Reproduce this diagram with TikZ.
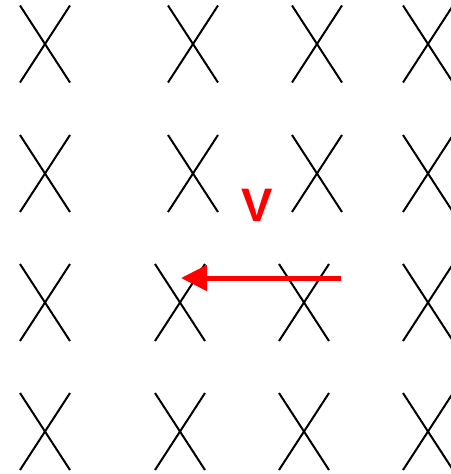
\documentclass[tikz,border=0pt]{standalone}
\usepackage{fontspec}
\newfontfamily\labelfont{Liberation Sans}
\usepackage{tikz}
\usetikzlibrary{arrows.meta,shapes.misc}
\definecolor{vecred}{RGB}{255,0,0}

\begin{document}
\begin{tikzpicture}[
    x=1pt,y=-1pt,
    xmark/.style={cross out,draw,line width=2pt,inner sep=0pt,outer sep=0pt,minimum width=50pt,minimum height=77pt},
    vec/.style={-{Triangle[length=26pt,width=25pt]},line width=5pt,vecred},
    vlabel/.style={font=\labelfont\bfseries\fontsize{47}{50}\selectfont,text=vecred,inner sep=0pt}
]
\useasboundingbox (0,0) rectangle (450,474);
% upper two rows
\node[xmark] (c11) at (45,44) {};
\node[xmark] (c12) at (193,44) {};
\node[xmark] (c13) at (317,44) {};
\node[xmark] (c14) at (428,44) {};
\node[xmark] (c21) at (45,173.5) {};
\node[xmark] (c22) at (193,173.5) {};
\node[xmark] (c23) at (317,173.5) {};
\node[xmark] (c24) at (428,173.5) {};
% lower two rows, shifted left
\node[xmark] (c31) at (45,302.5) {};
\node[xmark] (c32) at (180,302.5) {};
\node[xmark] (c33) at (304,302.5) {};
\node[xmark] (c34) at (428,302.5) {};
\node[xmark] (c41) at (45,431.5) {};
\node[xmark] (c42) at (180,431.5) {};
\node[xmark] (c43) at (304,431.5) {};
\node[xmark] (c44) at (428,431.5) {};

% velocity vector
\coordinate (vtail) at (341,278);
\coordinate (vhead) at (181,278);
\draw[vec] (vtail) -- (vhead);
\node[vlabel] (vname) at (257,205) {V};
\end{tikzpicture}
\end{document}
